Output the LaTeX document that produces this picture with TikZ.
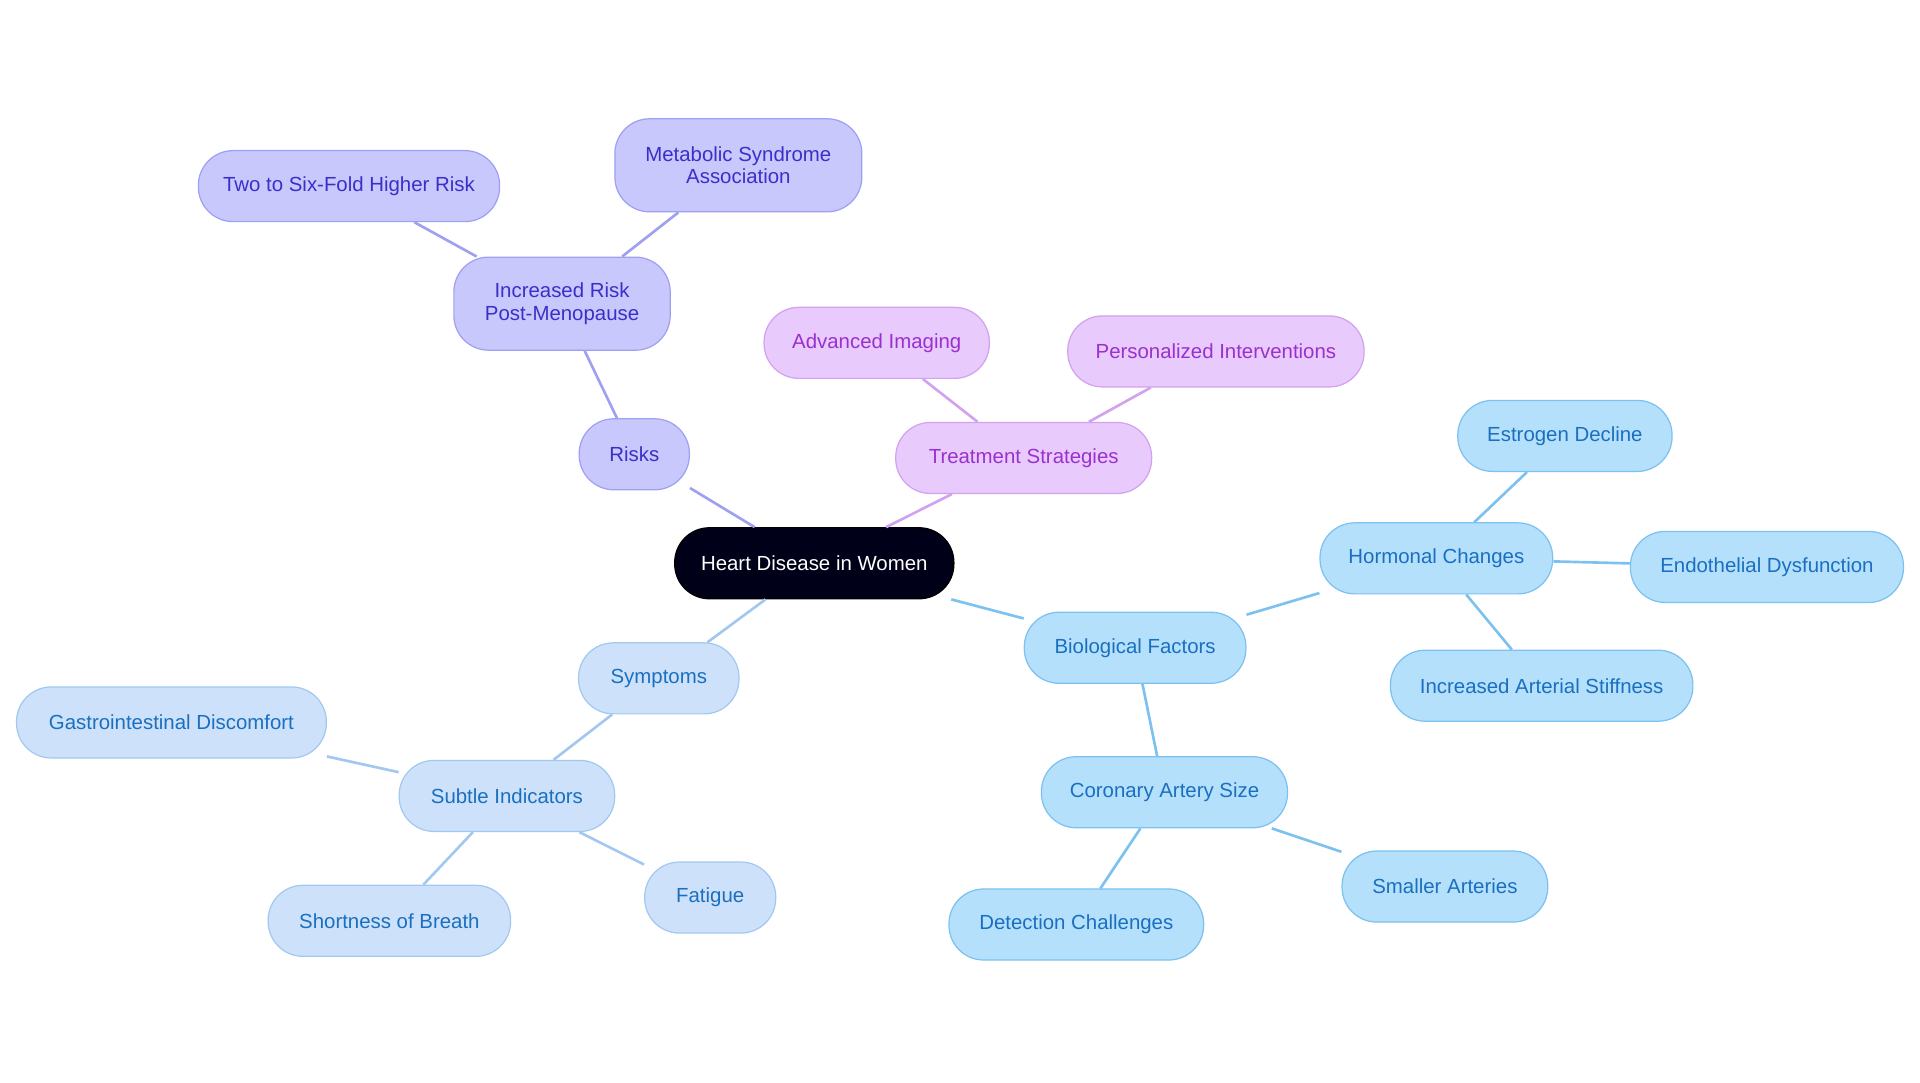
\documentclass[tikz,border=0pt]{standalone}
\usepackage{fontspec}
\setmainfont{Liberation Sans}
\begin{document}
\begin{tikzpicture}[x=0.6pt,y=-0.6pt,
 base/.style={rounded corners=17pt,draw,line width=0.6pt,minimum height=34.8pt,inner sep=2pt,align=center,font=\fontsize{10}{11}\selectfont},
 rk/.style={base,fill=rkF,draw=rkD,text=rkT},
 tr/.style={base,fill=trF,draw=trD,text=trT},
 bi/.style={base,fill=biF,draw=biD,text=biT},
 sy/.style={base,fill=syF,draw=syD,text=syT},
 e/.style={line width=1.3pt}]
\definecolor{rkF}{HTML}{C8C8FC}\definecolor{rkD}{HTML}{A0A0F2}\definecolor{rkT}{HTML}{3B2FC9}
\definecolor{trF}{HTML}{E8CAFC}\definecolor{trD}{HTML}{D2A2F0}\definecolor{trT}{HTML}{9A30D0}
\definecolor{biF}{HTML}{B5E0FC}\definecolor{biD}{HTML}{7CC1EF}\definecolor{biT}{HTML}{1A6FC0}
\definecolor{syF}{HTML}{CDE2FA}\definecolor{syD}{HTML}{A3C8F0}\definecolor{syT}{HTML}{1A6FC0}
\useasboundingbox (0,0) rectangle (1568,884);
\node[base,fill=black!90!blue,draw=black,text=white,minimum width=136.8pt] (c) at (665,460) {Heart Disease in Women};
\node[rk,minimum width=54pt] (r) at (518,371) {Risks};
\node[rk,minimum width=106pt,minimum height=45.6pt] (ir) at (459,248) {Increased Risk\\Post-Menopause};
\node[rk,minimum width=147.6pt] (tw) at (285,152) {Two to Six-Fold Higher Risk};
\node[rk,minimum width=121pt,minimum height=45.6pt] (ms) at (603,135) {Metabolic Syndrome\\Association};
\node[tr,minimum width=125.4pt] (t) at (836,374) {Treatment Strategies};
\node[tr,minimum width=110.4pt] (ai) at (716,280) {Advanced Imaging};
\node[tr,minimum width=145.2pt] (pi) at (993,287) {Personalized Interventions};
\node[bi,minimum width=108.6pt] (b) at (927,529) {Biological Factors};
\node[bi,minimum width=114pt] (h) at (1173,456) {Hormonal Changes};
\node[bi,minimum width=105pt] (es) at (1278,356) {Estrogen Decline};
\node[bi,minimum width=133.8pt] (en) at (1443,463) {Endothelial Dysfunction};
\node[bi,minimum width=148.2pt] (ia) at (1259,560) {Increased Arterial Stiffness};
\node[bi,minimum width=120.6pt] (ca) at (951,647) {Coronary Artery Size};
\node[bi,minimum width=100.8pt] (sa) at (1180,724) {Smaller Arteries};
\node[bi,minimum width=124.8pt] (dc) at (879,755) {Detection Challenges};
\node[sy,minimum width=78.6pt] (s) at (538,554) {Symptoms};
\node[sy,minimum width=105.6pt] (si) at (414,650) {Subtle Indicators};
\node[sy,minimum width=151.8pt] (gd) at (140,590) {Gastrointestinal Discomfort};
\node[sy,minimum width=118.8pt] (sb) at (318,752) {Shortness of Breath};
\node[sy,minimum width=64.2pt] (fa) at (580,733) {Fatigue};
\begin{scope}[on background layer/.style={}]
\end{scope}
\begin{pgfinterruptboundingbox}\end{pgfinterruptboundingbox}
\draw[e,rkD] (c) -- (r); \draw[e,rkD] (r) -- (ir); \draw[e,rkD] (ir) -- (tw); \draw[e,rkD] (ir) -- (ms);
\draw[e,trD] (c) -- (t); \draw[e,trD] (t) -- (ai); \draw[e,trD] (t) -- (pi);
\draw[e,biD] (c) -- (b); \draw[e,biD] (b) -- (h); \draw[e,biD] (h) -- (es); \draw[e,biD] (h) -- (en); \draw[e,biD] (h) -- (ia);
\draw[e,biD] (b) -- (ca); \draw[e,biD] (ca) -- (sa); \draw[e,biD] (ca) -- (dc);
\draw[e,syD] (c) -- (s); \draw[e,syD] (s) -- (si); \draw[e,syD] (si) -- (gd); \draw[e,syD] (si) -- (sb); \draw[e,syD] (si) -- (fa);
\end{tikzpicture}
\end{document}
